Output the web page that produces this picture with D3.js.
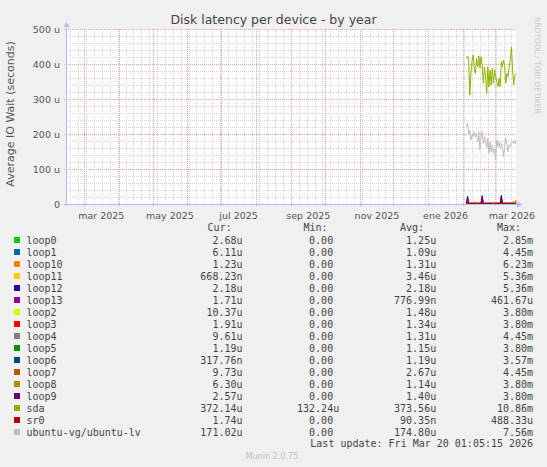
<!DOCTYPE html>
<html>
<head>
<meta charset="utf-8">
<script src="https://d3js.org/d3.v7.min.js"></script>
<style>
  body { margin: 0; background: #f0f0f0; }
  svg { display: block; }
  .tick text { font-family: "DejaVu Sans", sans-serif; font-size: 9.5px; fill: #555; }
</style>
</head>
<body>
<svg width="547" height="467"></svg>
<script>
// time window: 400 days ending at last update
const lastUpdate = new Date(Date.UTC(2026, 2, 20, 1, 5, 15));
const firstDay = new Date(Date.UTC(2026, 1, 4));   // first daily sample
const yTicks = [0, 100, 200, 300, 400, 500];

const names = ['loop0', 'loop1', 'loop10', 'loop11', 'loop12', 'loop13', 'loop2', 'loop3',
  'loop4', 'loop5', 'loop6', 'loop7', 'loop8', 'loop9', 'sda', 'sr0', 'ubuntu-vg/ubuntu-lv'];
const colors = ['#00cc00', '#0066b3', '#ff8000', '#ffcc00', '#330099', '#990099', '#ccff00', '#ff0000',
  '#808080', '#008f00', '#00487d', '#b35a00', '#b38f00', '#6b006b', '#8fb300', '#b30000', '#bebebe'];

// daily values in microseconds
const loop0 = [1.2,1.8,1.1,0.9,1.4,1.2,1.0,1.3,1.6,1.1,0.8,1.2,1.5,1.0,2.1,1.1,0.9,1.3,1.2,1.0,1.4,1.1,1.6,0.9,1.2,1.0,1.3,1.1,0.8,1.2,1.4,2.4,1.0,1.1,1.3,0.9,1.2,1.5,1.0,1.1,1.3,1.2,1.4,1.0,2.7];
const loop1 = [1.0,2.6,0.9,1.1,0.8,1.0,1.2,0.9,1.1,1.0,0.7,1.0,0.9,1.1,3.2,1.0,0.8,1.1,0.9,1.2,1.0,0.9,1.1,0.8,1.0,1.2,0.9,1.0,1.1,0.9,1.0,3.5,1.1,0.9,1.0,1.2,0.8,1.0,1.1,0.9,1.0,1.2,0.9,1.1,6.1];
const loop10 = [2.1,3.0,2.4,2.2,2.8,2.5,2.0,2.6,3.1,2.3,2.1,2.7,2.4,2.2,3.4,2.5,2.0,2.3,2.9,2.2,2.4,2.6,3.0,2.1,2.3,2.5,2.2,2.8,2.4,2.0,2.3,3.6,2.5,2.2,2.4,2.7,2.1,2.3,2.6,2.2,2.8,3.2,2.5,2.3,1.2];
const loop11 = [1.5,3.2,1.8,1.4,2.0,1.6,2.4,4.5,8.2,5.0,1.9,1.5,2.2,1.7,4.0,1.6,1.4,2.1,1.8,1.5,2.3,1.9,4.6,1.6,1.4,2.0,1.7,1.5,2.2,1.8,1.6,3.8,1.5,1.9,2.1,1.6,1.8,2.4,1.5,2.0,3.4,6.2,9.0,4.2,0.7];
const loop12 = [2.0,22.0,2.3,1.9,2.1,2.4,1.8,2.2,2.6,2.0,1.9,2.3,2.1,2.5,24.0,2.2,1.8,2.0,2.4,2.1,1.9,2.3,2.6,2.0,2.2,1.8,2.1,2.4,2.0,1.9,2.5,25.0,2.2,2.0,1.8,2.3,2.1,2.4,1.9,2.0,2.2,2.6,2.1,2.3,2.2];
const loop13 = [0.6,7.5,0.7,0.5,0.8,0.6,0.7,0.9,0.6,0.5,0.7,0.8,0.6,0.7,9.5,0.6,0.5,0.7,0.8,0.6,0.7,0.5,0.9,0.6,0.7,0.8,0.6,0.5,0.7,0.6,0.8,11.5,0.7,0.6,0.5,0.8,0.7,0.6,0.9,0.7,0.6,0.8,0.7,0.5,1.7];
const loop2 = [1.3,2.9,1.2,1.4,1.5,1.1,1.3,1.6,1.4,1.2,1.3,1.5,1.1,1.4,3.1,1.2,1.3,1.6,1.4,1.1,1.5,1.3,1.7,1.2,1.4,1.3,1.1,1.5,1.6,1.2,1.4,3.3,1.3,1.5,1.2,1.4,1.3,1.1,1.6,1.4,1.2,1.5,1.3,1.4,10.4];
const loop3 = [1.2,2.8,1.1,1.3,1.2,1.4,1.0,1.3,1.5,1.2,1.1,1.4,1.2,1.3,3.0,1.1,1.2,1.4,1.3,1.0,1.2,1.4,1.6,1.1,1.3,1.2,1.0,1.4,1.3,1.2,1.1,3.2,1.3,1.2,1.4,1.1,1.2,1.3,1.5,1.2,1.1,1.4,1.3,1.2,1.9];
const loop4 = [1.2,2.5,1.1,1.3,1.4,1.2,1.0,1.3,1.5,1.2,1.1,1.4,1.3,1.2,3.1,1.1,1.2,1.3,1.4,1.0,1.2,1.3,1.5,1.1,1.2,1.4,1.0,1.3,1.2,1.1,1.3,3.4,1.2,1.1,1.3,1.2,1.4,1.0,1.3,1.2,1.1,1.4,1.2,1.3,9.6];
const loop5 = [1.1,2.4,1.0,1.2,1.1,1.3,0.9,1.2,1.4,1.1,1.0,1.2,1.1,1.3,2.8,1.0,1.1,1.2,1.3,0.9,1.1,1.2,1.4,1.0,1.1,1.3,0.9,1.2,1.1,1.0,1.2,3.0,1.1,1.0,1.2,1.1,1.3,0.9,1.2,1.1,1.0,1.3,1.1,1.2,1.2];
const loop6 = [1.1,2.6,1.0,1.2,1.3,1.1,0.9,1.2,1.4,1.1,1.0,1.3,1.2,1.1,2.9,1.0,1.1,1.2,1.3,0.9,1.1,1.2,1.5,1.0,1.1,1.3,0.9,1.2,1.1,1.0,1.2,3.1,1.1,1.0,1.2,1.1,1.3,0.9,1.2,1.1,1.0,1.3,1.1,1.2,0.3];
const loop7 = [2.4,4.1,2.6,2.2,2.8,2.5,2.3,2.7,3.0,2.4,2.2,2.6,2.5,2.3,4.4,2.6,2.1,2.4,2.8,2.3,2.5,2.7,3.1,2.2,2.4,2.6,2.3,2.9,2.5,2.1,2.4,4.6,2.6,2.3,2.5,2.8,2.2,2.4,2.7,2.3,2.9,3.3,2.6,2.4,9.7];
const loop8 = [1.1,2.3,1.0,1.2,1.1,1.3,0.9,1.2,1.3,1.1,1.0,1.2,1.1,1.2,2.7,1.0,1.1,1.2,1.3,0.9,1.1,1.2,1.4,1.0,1.1,1.2,0.9,1.2,1.1,1.0,1.2,2.9,1.1,1.0,1.2,1.1,1.3,0.9,1.2,1.1,1.0,1.3,1.1,1.2,6.3];
const loop9 = [1.3,18.5,1.4,1.2,1.5,1.3,1.1,1.4,1.6,1.3,1.2,1.5,1.3,1.4,20.0,1.2,1.3,1.5,1.4,1.1,1.3,1.4,1.7,1.2,1.4,1.3,1.1,1.5,1.4,1.2,1.3,21.0,1.4,1.3,1.5,1.2,1.3,1.4,1.6,1.3,1.2,1.5,1.4,1.3,2.6];
const sda = [416,423,411,311,373,411,426,383,373,416,392,423,388,421,397,345,392,364,316,392,335,383,340,388,345,383,364,349,335,359,335,407,392,411,392,345,373,364,392,411,449,383,340,368,373];
const sr0 = [0.1,6.0,0.1,0.0,0.1,0.1,0.0,0.1,0.2,0.1,0.0,0.1,0.1,0.0,5.2,0.1,0.0,0.1,0.1,0.0,0.1,0.1,0.2,0.0,0.1,0.1,0.0,0.1,0.1,0.0,0.1,8.0,0.1,0.0,0.1,0.1,0.0,0.1,0.2,0.1,0.0,0.1,0.1,0.0,1.7];
const ubuntuLv = [221,232,197,211,183,197,192,207,192,202,178,207,154,197,207,173,192,183,159,188,145,178,149,169,145,159,130,183,164,178,159,173,164,135,164,188,169,149,169,164,173,178,173,183,171];

const values = [loop0, loop1, loop10, loop11, loop12, loop13, loop2, loop3,
  loop4, loop5, loop6, loop7, loop8, loop9, sda, sr0, ubuntuLv];

// legend numbers as printed
const curText = ['2.68u','6.11u','1.23u','668.23n','2.18u','1.71u','10.37u','1.91u','9.61u','1.19u','317.76n','9.73u','6.30u','2.57u','372.14u','1.74u','171.02u'];
const minText = ['0.00','0.00','0.00','0.00','0.00','0.00','0.00','0.00','0.00','0.00','0.00','0.00','0.00','0.00','132.24u','0.00','0.00'];
const avgText = ['1.25u','1.09u','1.31u','3.46u','2.18u','776.99n','1.48u','1.34u','1.31u','1.15u','1.19u','2.67u','1.14u','1.40u','373.56u','90.35n','174.80u'];
const maxText = ['2.85m','4.45m','6.23m','5.36m','5.36m','461.67u','3.80m','3.80m','4.45m','3.80m','3.57m','4.45m','3.80m','3.80m','10.86m','488.33u','7.56m'];

const svg = d3.select('svg');
const sans = '"DejaVu Sans", sans-serif';
const mono = '"DejaVu Sans Mono", monospace';

const pLeft = 66, pRight = 516, pTop = 29, pBottom = 204;
const start = d3.utcDay.offset(lastUpdate, -400);

const x = d3.scaleUtc().domain([start, lastUpdate]).range([pLeft, pRight]);
const y = d3.scaleLinear().domain([0, 500]).range([pBottom, pTop]);

const es = d3.timeFormatLocale({
  dateTime: '%c', date: '%d/%m/%Y', time: '%H:%M:%S', periods: ['AM', 'PM'],
  days: ['domingo','lunes','martes','miércoles','jueves','viernes','sábado'],
  shortDays: ['dom','lun','mar','mié','jue','vie','sáb'],
  months: ['enero','febrero','marzo','abril','mayo','junio','julio','agosto','septiembre','octubre','noviembre','diciembre'],
  shortMonths: ['ene','feb','mar','abr','may','jun','jul','ago','sep','oct','nov','dic']
});
const monthFmt = es.utcFormat('%b %Y');

// canvas
svg.append('rect').attr('x', pLeft).attr('y', pTop).attr('width', pRight - pLeft).attr('height', pBottom - pTop)
  .attr('fill', '#ffffff');

const grid = svg.append('g').attr('shape-rendering', 'crispEdges');

// minor grid
d3.range(0, 501, 20).filter(v => v % 100).forEach(v => {
  grid.append('line').attr('x1', pLeft).attr('x2', pRight).attr('y1', Math.round(y(v)) + 0.5).attr('y2', Math.round(y(v)) + 0.5)
    .attr('stroke', '#d4d4d4').attr('stroke-dasharray', '1,1');
});
d3.utcMonday.range(start, lastUpdate).forEach(d => {
  grid.append('line').attr('x1', Math.round(x(d)) + 0.5).attr('x2', Math.round(x(d)) + 0.5).attr('y1', pTop).attr('y2', pBottom)
    .attr('stroke', '#d4d4d4').attr('stroke-dasharray', '1,1');
});
// major grid
yTicks.filter(v => v > 0).forEach(v => {
  grid.append('line').attr('x1', pLeft - 2).attr('x2', pRight).attr('y1', Math.round(y(v)) + 0.5).attr('y2', Math.round(y(v)) + 0.5)
    .attr('stroke', '#eca0a0').attr('stroke-dasharray', '1,1');
});
d3.utcMonth.range(start, lastUpdate).forEach(d => {
  grid.append('line').attr('x1', Math.round(x(d)) + 0.5).attr('x2', Math.round(x(d)) + 0.5).attr('y1', pTop).attr('y2', pBottom + 2)
    .attr('stroke', '#eca0a0').attr('stroke-dasharray', '1,1');
});

// axes labels
const labelMonths = d3.utcMonth.every(2).range(start, lastUpdate).map(d => d3.utcDay.offset(d, 15));
svg.append('g')
  .attr('transform', `translate(0, ${pBottom + 1})`)
  .call(d3.axisBottom(x).tickValues(labelMonths).tickSize(0).tickPadding(7).tickFormat(d => monthFmt(d3.utcDay.offset(d, -15))))
  .call(g => g.select('.domain').remove());

svg.append('g')
  .attr('transform', `translate(${pLeft - 6}, 0)`)
  .call(d3.axisLeft(y).tickValues(yTicks).tickSize(0).tickPadding(0).tickFormat(v => v === 0 ? '0' : v + ' u'))
  .call(g => g.select('.domain').remove());

// series lines
const dates = d3.utcDay.range(firstDay, d3.utcDay.offset(firstDay, 45));
const line = d3.line().x((d, i) => x(dates[i])).y(d => y(d));
values.forEach((vals, k) => {
  svg.append('path').datum(vals).attr('d', line)
    .attr('fill', 'none').attr('stroke', colors[k]).attr('stroke-width', 1);
});

// axis lines with arrows
const axisColor = '#b8b8ff';
svg.append('line').attr('x1', pLeft - 2).attr('x2', pRight + 2).attr('y1', pBottom + 0.5).attr('y2', pBottom + 0.5)
  .attr('stroke', axisColor).attr('shape-rendering', 'crispEdges');
svg.append('path').attr('d', `M${pRight + 1},${pBottom - 2.5} L${pRight + 6},${pBottom + 0.5} L${pRight + 1},${pBottom + 3.5} Z`).attr('fill', axisColor);
svg.append('line').attr('x1', pLeft + 0.5).attr('x2', pLeft + 0.5).attr('y1', pBottom + 2).attr('y2', pTop - 3)
  .attr('stroke', axisColor).attr('shape-rendering', 'crispEdges');
svg.append('path').attr('d', `M${pLeft - 2.5},${pTop - 2} L${pLeft + 0.5},${pTop - 7} L${pLeft + 3.5},${pTop - 2} Z`).attr('fill', axisColor);

// title and labels
svg.append('text').attr('x', 273.5).attr('y', 24).attr('text-anchor', 'middle')
  .attr('font-family', sans).attr('font-size', 12.5).attr('fill', '#444').text('Disk latency per device - by year');

svg.append('text').attr('transform', 'translate(14, 114) rotate(-90)').attr('text-anchor', 'middle')
  .attr('font-family', sans).attr('font-size', 11).attr('fill', '#555').text('Average IO Wait (seconds)');

svg.append('text').attr('transform', 'translate(535, 17) rotate(90)')
  .attr('font-family', sans).attr('font-size', 7.5).attr('fill', '#c8c8c8').text('RRDTOOL / TOBI OETIKER');

// legend
const lg = svg.append('g').attr('font-family', mono).attr('font-size', 10).attr('fill', '#444');
const cw = 6.02;
[['Cur:', 207.6], ['Min:', 303.5], ['Avg:', 400], ['Max:', 497]].forEach(([t, px]) => {
  lg.append('text').attr('x', px).attr('y', 231).text(t);
});
const colEnds = [242.5, 339.2, 436.2, 533.1];
names.forEach((n, i) => {
  const cy = 240 + 12 * i;
  lg.append('rect').attr('x', 14).attr('y', cy - 3).attr('width', 6).attr('height', 6).attr('fill', colors[i]);
  lg.append('text').attr('x', 26.5).attr('y', cy + 3.5).text(n);
  [curText[i], minText[i], avgText[i], maxText[i]].forEach((s, c) => {
    const end = /[a-z]$/.test(s) ? colEnds[c] : colEnds[c] - cw;
    lg.append('text').attr('x', end).attr('y', cy + 3.5).attr('text-anchor', 'end').text(s);
  });
});
lg.append('text').attr('x', 533.1).attr('y', 447).attr('text-anchor', 'end').text('Last update: Fri Mar 20 01:05:15 2026');

svg.append('text').attr('x', 272).attr('y', 459).attr('text-anchor', 'middle')
  .attr('font-family', sans).attr('font-size', 8).attr('fill', '#c0c0c0').text('Munin 2.0.75');
</script>
</body>
</html>
